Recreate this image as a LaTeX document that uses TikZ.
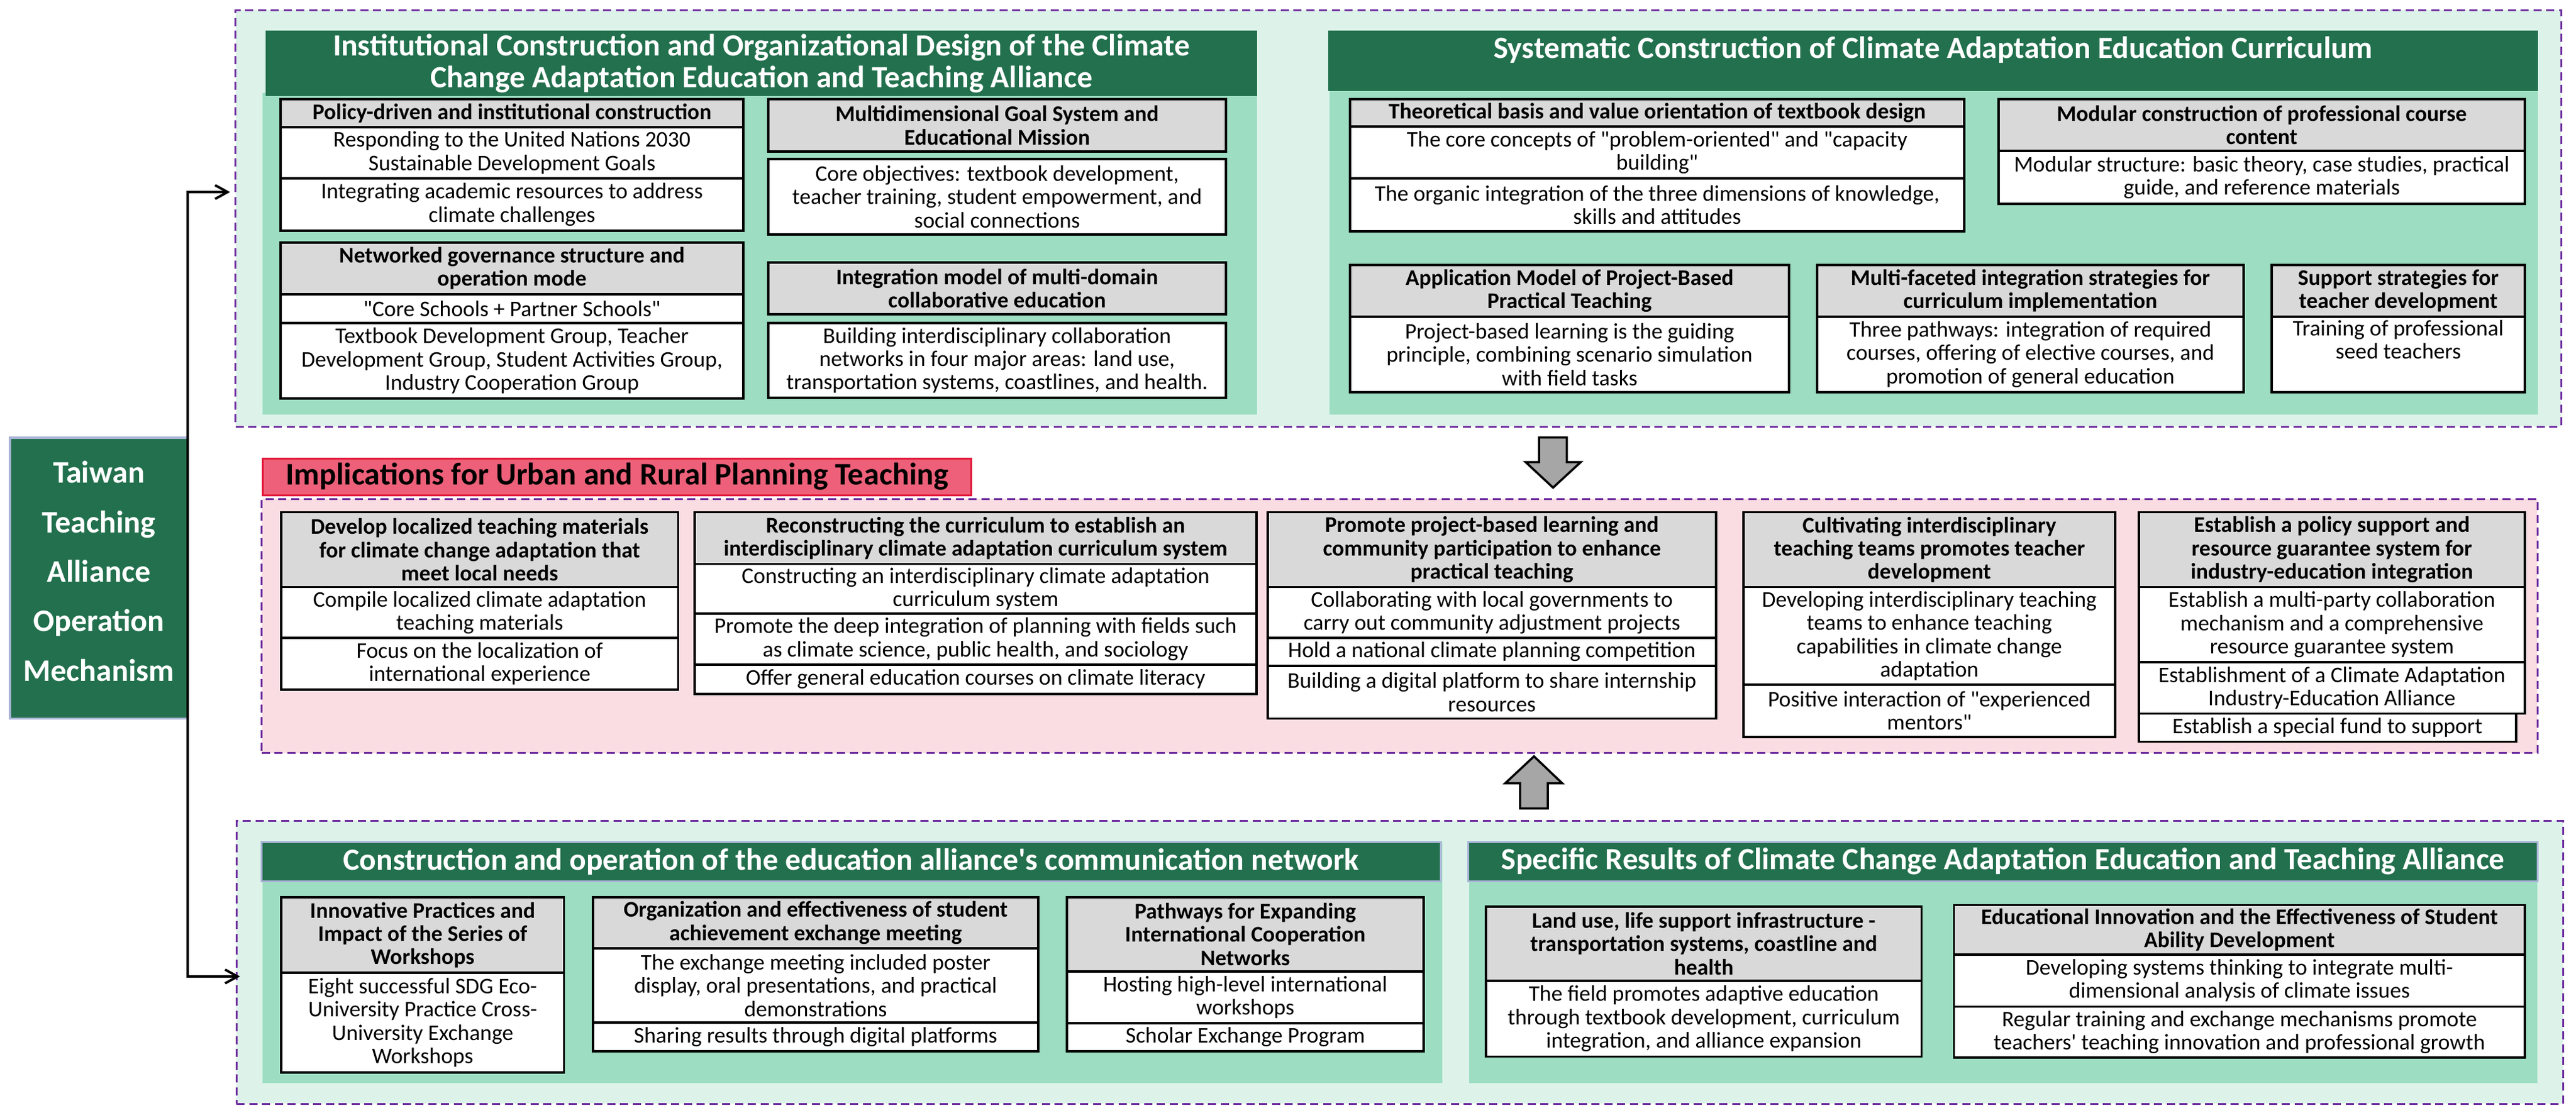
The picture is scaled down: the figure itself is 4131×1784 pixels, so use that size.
\documentclass[tikz,border=0pt]{standalone}
\usepackage{fontspec}
\setmainfont{Carlito}[Ligatures=TeXOff]
\usetikzlibrary{arrows.meta}
\definecolor{mintL}{HTML}{DDF3EA}
\definecolor{mintM}{HTML}{9DDEC2}
\definecolor{dgreen}{HTML}{22704D}
\definecolor{hgray}{HTML}{D9D9D9}
\definecolor{pinkL}{HTML}{FADDE2}
\definecolor{redF}{HTML}{EE6079}
\definecolor{redB}{HTML}{E3193A}
\definecolor{purp}{HTML}{7030A0}
\definecolor{lblue}{HTML}{A9B4D6}
\definecolor{agray}{HTML}{A6A6A6}
\newcommand\cell[7]{%
  \pgfmathsetmacro\cw{(#4-#2)*0.1}%
  \pgfmathsetmacro\ch{(#5-#3)*0.1}%
  \pgfmathsetmacro\cx{(#2+#4)/2}%
  \pgfmathsetmacro\cy{(#3+#5)/2}%
  \node[#6, minimum width=\cw mm, minimum height=\ch mm] (#1) at (\cx,\cy) {#7};}
\tikzset{
 cbase/.style={inner sep=0pt, outer sep=0pt, align=center},
 hc/.style={cbase, draw=black, line width=1pt, fill=hgray, font=\fontsize{10.2}{10.6}\selectfont\bfseries},
 bc/.style={cbase, draw=black, line width=1pt, fill=white, font=\fontsize{10.2}{10.6}\selectfont},
 outerG/.style={cbase, fill=mintL, draw=purp, line width=0.3mm, dash pattern=on 1.3mm off 0.75mm},
 outerP/.style={outerG, fill=pinkL},
 panel/.style={cbase, fill=mintM},
 ghead/.style={cbase, fill=dgreen, text=white, font=\fontsize{14.1}{14.6}\selectfont\bfseries},
 gheadB/.style={ghead, draw=lblue, line width=0.3mm},
 gtext/.style={cbase, text=white, font=\fontsize{14.1}{14.6}\selectfont\bfseries},
 link/.style={line width=1.1pt, -{Straight Barb[length=2mm,width=2.2mm]}},
 barrow/.style={draw=black, line width=1pt, fill=agray},
}
\begin{document}
\begin{tikzpicture}[x=0.1mm, y=-0.1mm]
\useasboundingbox (0,0) rectangle (4131,1784);
% ---------- top outer ----------
\cell{topOuter}{378}{16.5}{4107}{684}{outerG}{}
\cell{panelTL}{421}{149}{2016}{665}{panel}{}
\cell{headTL}{426}{49}{2016}{154}{ghead}{Institutional Construction and Organizational Design of the Climate\\Change Adaptation Education and Teaching Alliance}
\cell{panelTR}{2132}{146}{4070}{665}{panel}{}
\cell{headTR}{2130}{49}{4070}{146}{cbase,fill=dgreen}{}
\node[gtext] (headTRt) at (3100,80) {Systematic Construction of Climate Adaptation Education Curriculum};
% policy
\cell{p1h}{450}{159}{1192}{204}{hc}{Policy-driven and institutional construction}
\cell{p1a}{450}{204}{1192}{286}{bc}{Responding to the United Nations 2030\\Sustainable Development Goals}
\cell{p1b}{450}{286}{1192}{370}{bc}{Integrating academic resources to address\\climate challenges}
\cell{p2h}{450}{389}{1192}{472}{hc}{Networked governance structure and\\operation mode}
\cell{p2a}{450}{472}{1192}{518}{bc}{"Core Schools + Partner Schools"}
\cell{p2b}{450}{518}{1192}{639}{bc}{Textbook Development Group, Teacher\\Development Group, Student Activities Group,\\Industry Cooperation Group}
\cell{p3h}{1232}{159}{1966}{243}{hc}{Multidimensional Goal System and\\Educational Mission}
\cell{p3a}{1232}{255}{1966}{376}{bc}{Core objectives: textbook development,\\teacher training, student empowerment, and\\social connections}
\cell{p4h}{1232}{421}{1966}{504}{hc}{Integration model of multi-domain\\collaborative education}
\cell{p4a}{1232}{518}{1966}{638}{bc}{Building interdisciplinary collaboration\\networks in four major areas: land use,\\transportation systems, coastlines, and health.}
% right
\cell{r1h}{2165}{159}{3150}{203}{hc}{Theoretical basis and value orientation of textbook design}
\cell{r1a}{2165}{203}{3150}{286}{bc}{The core concepts of "problem-oriented" and "capacity\\building"}
\cell{r1b}{2165}{286}{3150}{371}{bc}{The organic integration of the three dimensions of knowledge,\\skills and attitudes}
\cell{r2h}{3205}{159}{4049}{242}{hc}{Modular construction of professional course\\content}
\cell{r2a}{3205}{242}{4049}{327}{bc}{Modular structure: basic theory, case studies, practical\\guide, and reference materials}
\cell{r3h}{2165}{425}{2869}{508}{hc}{Application Model of Project-Based\\Practical Teaching}
\cell{r3a}{2165}{508}{2869}{629}{bc}{Project-based learning is the guiding\\principle, combining scenario simulation\\with field tasks}
\cell{r4h}{2914}{425}{3598}{508}{hc}{Multi-faceted integration strategies for\\curriculum implementation}
\cell{r4a}{2914}{508}{3598}{629}{bc}{Three pathways: integration of required\\courses, offering of elective courses, and\\promotion of general education}
\cell{r5h}{3643}{425}{4049}{508}{hc}{Support strategies for\\teacher development}
\cell{r5a}{3643}{508}{4049}{629}{bc}{Training of professional\\seed teachers\\\strut}
% ---------- middle ----------
\cell{midOuter}{420}{800}{4069}{1207.6}{outerP}{}
\cell{impl}{422}{735}{1557}{794}{cbase, fill=redF, draw=redB, line width=0.3mm, font=\fontsize{14.3}{15}\selectfont\bfseries}{Implications for Urban and Rural Planning Teaching}
\cell{m1h}{451}{821.5}{1087.5}{941.6}{hc}{Develop localized teaching materials\\for climate change adaptation that\\meet local needs}
\cell{m1a}{451}{941.6}{1087.5}{1023}{bc}{Compile localized climate adaptation\\teaching materials}
\cell{m1b}{451}{1023}{1087.5}{1106}{bc}{Focus on the localization of\\international experience}
\cell{m2h}{1114}{821.5}{2015}{904.5}{hc}{Reconstructing the curriculum to establish an\\interdisciplinary climate adaptation curriculum system}
\cell{m2a}{1114}{904.5}{2015}{984}{bc}{Constructing an interdisciplinary climate adaptation\\curriculum system}
\cell{m2b}{1114}{984}{2015}{1066}{bc}{Promote the deep integration of planning with fields such\\as climate science, public health, and sociology}
\cell{m2c}{1114}{1066}{2015}{1113}{bc}{Offer general education courses on climate literacy}
\cell{m3h}{2033}{821.5}{2752}{941.6}{hc}{Promote project-based learning and\\community participation to enhance\\practical teaching}
\cell{m3a}{2033}{941.6}{2752}{1023}{bc}{Collaborating with local governments to\\carry out community adjustment projects}
\cell{m3b}{2033}{1023}{2752}{1068}{bc}{Hold a national climate planning competition}
\cell{m3c}{2033}{1068}{2752}{1152.5}{bc}{Building a digital platform to share internship\\resources}
\cell{m4h}{2796}{821.5}{3392}{941.6}{hc}{Cultivating interdisciplinary\\teaching teams promotes teacher\\development}
\cell{m4a}{2796}{941.6}{3392}{1098}{bc}{Developing interdisciplinary teaching\\teams to enhance teaching\\capabilities in climate change\\adaptation}
\cell{m4b}{2796}{1098}{3392}{1182}{bc}{Positive interaction of "experienced\\mentors"}
\cell{m5h}{3430}{821.5}{4049}{941.6}{hc}{Establish a policy support and\\resource guarantee system for\\industry-education integration}
\cell{m5a}{3430}{941.6}{4049}{1062}{bc}{Establish a multi-party collaboration\\mechanism and a comprehensive\\resource guarantee system}
\cell{m5b}{3430}{1062}{4049}{1144.5}{bc}{Establishment of a Climate Adaptation\\Industry-Education Alliance}
\cell{m5c}{3430}{1144.5}{4035}{1189.6}{bc}{Establish a special fund to support}
% ---------- bottom ----------
\cell{botOuter}{379.5}{1316}{4110}{1770}{outerG}{}
\cell{panelBL}{421.5}{1350}{2312.5}{1737}{panel}{}
\cell{headBL}{420}{1350}{2310}{1413}{gheadB}{Construction and operation of the education alliance's communication network}
\cell{panelBR}{2356}{1350}{4069}{1737}{panel}{}
\cell{headBR}{2355}{1350}{4069}{1413}{gheadB}{Specific Results of Climate Change Adaptation Education and Teaching Alliance}
\cell{b1h}{451}{1439}{904.5}{1560}{hc}{Innovative Practices and\\Impact of the Series of\\Workshops}
\cell{b1a}{451}{1560}{904.5}{1720}{bc}{Eight successful SDG Eco-\\University Practice Cross-\\University Exchange\\Workshops}
\cell{b2h}{951}{1439}{1665}{1521}{hc}{Organization and effectiveness of student\\achievement exchange meeting}
\cell{b2a}{951}{1521}{1665}{1640}{bc}{The exchange meeting included poster\\display, oral presentations, and practical\\demonstrations}
\cell{b2b}{951}{1640}{1665}{1686}{bc}{Sharing results through digital platforms}
\cell{b3h}{1711}{1439}{2283}{1558}{hc}{Pathways for Expanding\\International Cooperation\\Networks}
\cell{b3a}{1711}{1558}{2283}{1641}{bc}{Hosting high-level international\\workshops}
\cell{b3b}{1711}{1641}{2283}{1686}{bc}{Scholar Exchange Program}
\cell{b4h}{2383}{1454}{3081.5}{1573}{hc}{Land use, life support infrastructure -\\transportation systems, coastline and\\health}
\cell{b4a}{2383}{1573}{3081.5}{1694.5}{bc}{The field promotes adaptive education\\through textbook development, curriculum\\integration, and alliance expansion}
\cell{b5h}{3133.5}{1451.6}{4049}{1531}{hc}{Educational Innovation and the Effectiveness of Student\\Ability Development}
\cell{b5a}{3133.5}{1531}{4049}{1614.5}{bc}{Developing systems thinking to integrate multi-\\dimensional analysis of climate issues}
\cell{b5b}{3133.5}{1614.5}{4049}{1696}{bc}{Regular training and exchange mechanisms promote\\teachers' teaching innovation and professional growth}
% ---------- left box and connectors ----------
\cell{taiwan}{16}{702}{301}{1152.5}{cbase, fill=dgreen, draw=lblue, line width=0.35mm}{}
\node[cbase, text=white, font=\fontsize{14.3}{22.6}\selectfont\bfseries] (taiwanT) at (158.5,916) {Taiwan\\Teaching\\Alliance\\Operation\\Mechanism};
\coordinate (aTop) at (369,308);
\coordinate (aBot) at (385,1566);
\draw[link] (taiwan.east) |- (aTop);
\draw[link] (taiwan.east) |- (aBot);
% block arrows
\draw[barrow] (2468,701.7) -- (2512.5,701.7) -- (2512.5,741) -- (2535,741) -- (2490.5,782) -- (2446.5,741) -- (2468,741) -- cycle;
\draw[barrow] (2437.5,1296.7) -- (2482,1296.7) -- (2482,1256) -- (2505,1256) -- (2460,1213) -- (2414,1256) -- (2437.5,1256) -- cycle;
\end{tikzpicture}
\end{document}
